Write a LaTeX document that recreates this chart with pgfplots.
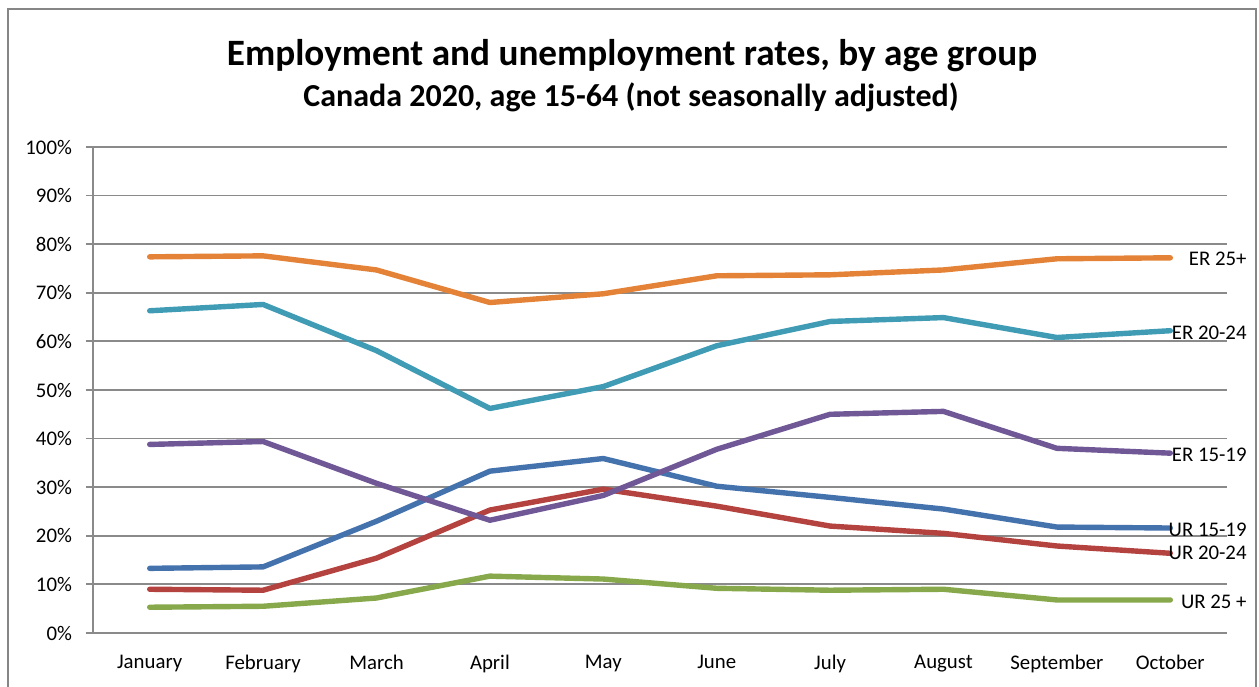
\documentclass[border=0pt]{standalone}
\usepackage{fontspec}
\setmainfont{Carlito}
\usepackage{pgfplots}
\pgfplotsset{compat=1.18}
\definecolor{cOr}{RGB}{228,131,55}
\definecolor{cAq}{RGB}{64,155,180}
\definecolor{cPu}{RGB}{112,88,150}
\definecolor{cBl}{RGB}{68,114,173}
\definecolor{cRe}{RGB}{180,66,63}
\definecolor{cGr}{RGB}{135,168,75}
\definecolor{gridGray}{RGB}{138,138,138}
\definecolor{frameGray}{RGB}{134,134,134}
\begin{document}
\begin{tikzpicture}
\useasboundingbox (0pt,0pt) rectangle (629.5pt,343pt);
\draw[frameGray, line width=1pt] (4pt,-5pt) -- (4pt,338.5pt) -- (628pt,338.5pt) -- (628pt,-5pt);
\node[font=\fontsize{18.6}{20}\selectfont\bfseries, anchor=base, inner sep=0pt] at (316pt,310.2pt) {Employment and unemployment rates, by age group};
\node[font=\fontsize{16}{18}\selectfont\bfseries, anchor=base, inner sep=0pt] at (315.5pt,289.6pt) {Canada 2020, age 15-64 (not seasonally adjusted)};
\begin{axis}[
  at={(46.5pt,26.5pt)}, anchor=south west,
  scale only axis, width=567pt, height=243pt,
  xmin=-0.5, xmax=9.5, ymin=0, ymax=100,
  axis x line*=bottom, axis y line*=left,
  axis line style={gridGray, line width=0.9pt, -},
  tick align=outside,
  major tick length=3.5pt, minor tick length=3.5pt,
  every tick/.style={gridGray, line width=0.9pt},
  ytick={0,10,...,100},
  yticklabel={\pgfmathprintnumber{\tick}\%},
  yticklabel style={xshift=-3.5pt},
  xtick={0,...,9},
  xticklabels={January,February,March,April,May,June,July,August,September,October},
  xticklabel style={yshift=-4pt},
  xtick style={draw=none},
  minor xtick={-0.5,0.5,...,9.5},
  ymajorgrids, grid style={gridGray, line width=0.9pt},
  tick label style={font=\fontsize{10.4}{12}\selectfont},
  /pgf/number format/assume math mode=true,
  clip=false,
  every axis plot/.append style={line width=2.7pt, line cap=round, line join=round, mark=none},
]
\addplot[cBl] coordinates {(0,13.3) (1,13.6) (2,23.0) (3,33.3) (4,35.9) (5,30.2) (6,27.9) (7,25.5) (8,21.8) (9,21.6)};
\addplot[cRe] coordinates {(0,9.0) (1,8.8) (2,15.4) (3,25.3) (4,29.6) (5,26.1) (6,22.0) (7,20.5) (8,17.9) (9,16.4)};
\addplot[cGr] coordinates {(0,5.3) (1,5.5) (2,7.2) (3,11.7) (4,11.1) (5,9.2) (6,8.8) (7,9.0) (8,6.8) (9,6.8)};
\addplot[cPu] coordinates {(0,38.8) (1,39.4) (2,30.8) (3,23.2) (4,28.3) (5,37.8) (6,45.0) (7,45.6) (8,38.0) (9,37.0)};
\addplot[cAq] coordinates {(0,66.3) (1,67.6) (2,58.1) (3,46.2) (4,50.7) (5,59.1) (6,64.1) (7,64.9) (8,60.8) (9,62.2)};
\addplot[cOr] coordinates {(0,77.4) (1,77.6) (2,74.7) (3,68.0) (4,69.8) (5,73.5) (6,73.7) (7,74.7) (8,77.0) (9,77.2)};
\begin{scope}[every node/.style={anchor=east, inner sep=0pt, font=\fontsize{10.4}{12}\selectfont}]
\node at (axis cs:9.676,77.0) {ER 25+};
\node at (axis cs:9.676,61.8) {ER 20-24};
\node at (axis cs:9.676,36.6) {ER 15-19};
\node at (axis cs:9.676,21.2) {UR 15-19};
\node at (axis cs:9.676,16.4) {UR 20-24};
\node at (axis cs:9.676,6.4) {UR 25 +};
\end{scope}
\end{axis}
\end{tikzpicture}
\end{document}
